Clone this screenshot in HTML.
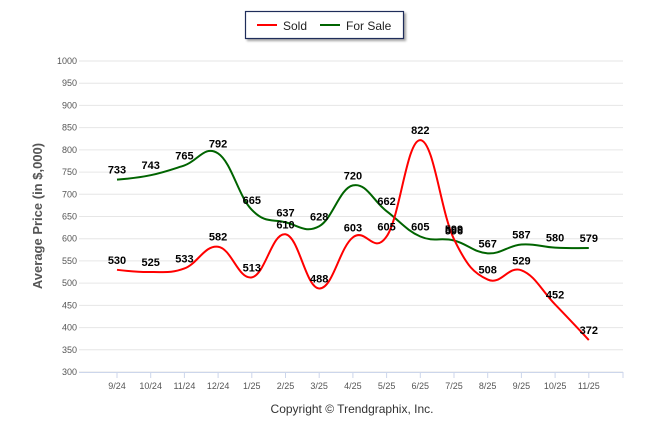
<!DOCTYPE html>
<html><head><meta charset="utf-8"><style>
html,body{margin:0;padding:0;background:#fff;}
svg{display:block;font-family:"Liberation Sans",Arial,sans-serif;}
</style></head><body>
<svg id="chart" width="646" height="434">
  <g>
    <rect x="245.5" y="11.5" width="158" height="27" fill="#fff" stroke="#1f2d5a" stroke-width="1.2" style="filter:drop-shadow(2px 2px 1px rgba(0,0,0,0.35))"/>
    <g>
      <line x1="257" y1="25" x2="277" y2="25" stroke="#ff0000" stroke-width="2"/>
      <text x="283" y="30" font-size="12" fill="#222">Sold</text>
    </g>
    <g>
      <line x1="320" y1="25" x2="340" y2="25" stroke="#006400" stroke-width="2"/>
      <text x="346" y="30" font-size="12" fill="#222">For Sale</text>
    </g>
  </g>
  <g id="grid"></g>
  <g id="yticks"></g>
  <g id="xticks"></g>
  <text x="42" y="216" font-size="13" font-weight="bold" fill="#555" text-anchor="middle" transform="rotate(-90 42 216)">Average Price (in $,000)</text>
  <g id="series"></g>
  <g id="labels"></g>
  <text x="352" y="413" font-size="12" fill="#333" text-anchor="middle">Copyright © Trendgraphix, Inc.</text>
</svg>
<script>
const categories = ["9/24","10/24","11/24","12/24","1/25","2/25","3/25","4/25","5/25","6/25","7/25","8/25","9/25","10/25","11/25"];
const soldValues = [530,525,533,582,513,610,488,603,605,822,599,508,529,452,372];
const forSaleValues = [733,743,765,792,665,637,628,720,662,605,596,567,587,580,579];
const yTicks = [300,350,400,450,500,550,600,650,700,750,800,850,900,950,1000];

const NS="http://www.w3.org/2000/svg";
const x0=117, xStep=33.7, gridL=79, gridR=623;
function xs(i){return x0+i*xStep;}
function ys(v){return 61+(1000-v)*(311/700);}
function mk(tag,attrs,parent){const e=document.createElementNS(NS,tag);for(const k in attrs)e.setAttribute(k,attrs[k]);parent.appendChild(e);return e;}

const grid=document.getElementById('grid'), yt=document.getElementById('yticks'), xt=document.getElementById('xticks');
yTicks.forEach(v=>{
  const l=mk('line',{x1:gridL,x2:gridR,y1:ys(v),y2:ys(v),stroke:'#e6e6e6','stroke-width':1},grid);
  
  
  const t=mk('text',{x:77,y:ys(v)+3,'font-size':9,fill:'#555','text-anchor':'end'},yt);
  t.textContent=v;
  
  
});
mk('line',{x1:gridL,x2:gridR,y1:ys(300)+0.5,y2:ys(300)+0.5,stroke:'#ccd6eb'},xt);
categories.forEach((c,i)=>{
  mk('line',{x1:xs(i),x2:xs(i),y1:ys(300),y2:ys(300)+6,stroke:'#ccd6eb'},xt);
  const t=mk('text',{x:xs(i),y:389,'font-size':9,fill:'#555','text-anchor':'middle'},xt);
  t.textContent=c;
  
  
});
mk('line',{x1:gridR,x2:gridR,y1:ys(300),y2:ys(300)+6,stroke:'#ccd6eb'},xt);

function splinePath(vals){
  const p=vals.map((v,i)=>[xs(i),ys(v)]);
  const sm=1.5,den=sm+1;
  let d='M'+p[0][0]+' '+p[0][1];
  const ctrl=[];
  for(let i=0;i<p.length;i++){
    if(i===0||i===p.length-1){ctrl.push(null);continue;}
    const [lx,ly]=p[i-1],[x,y]=p[i],[nx,ny]=p[i+1];
    let lcx=(sm*x+lx)/den,lcy=(sm*y+ly)/den,rcx=(sm*x+nx)/den,rcy=(sm*y+ny)/den;
    const corr=((rcy-lcy)*(rcx-x))/(rcx-lcx)+y-rcy;
    lcy+=corr;rcy+=corr;
    ctrl.push([lcx,lcy,rcx,rcy]);
  }
  for(let i=1;i<p.length;i++){
    const a=ctrl[i-1]?[ctrl[i-1][2],ctrl[i-1][3]]:p[i-1];
    const b=ctrl[i]?[ctrl[i][0],ctrl[i][1]]:p[i];
    d+=` C${a[0]} ${a[1]} ${b[0]} ${b[1]} ${p[i][0]} ${p[i][1]}`;
  }
  return d;
}
const series=document.getElementById('series'), labels=document.getElementById('labels');
[[forSaleValues,'#006400','for-sale'],[soldValues,'#ff0000','sold']].forEach(([vals,col,nm])=>{
  const path=mk('path',{d:splinePath(vals),fill:'none',stroke:col,'stroke-width':2},series);
  
  
  vals.forEach((v,i)=>{
    const t=mk('text',{x:xs(i),y:ys(v)-6,'font-size':11,'font-weight':'bold',fill:'#000','text-anchor':'middle'},labels);
    t.textContent=v;
    
    
  });
});
</script>
</body></html>
